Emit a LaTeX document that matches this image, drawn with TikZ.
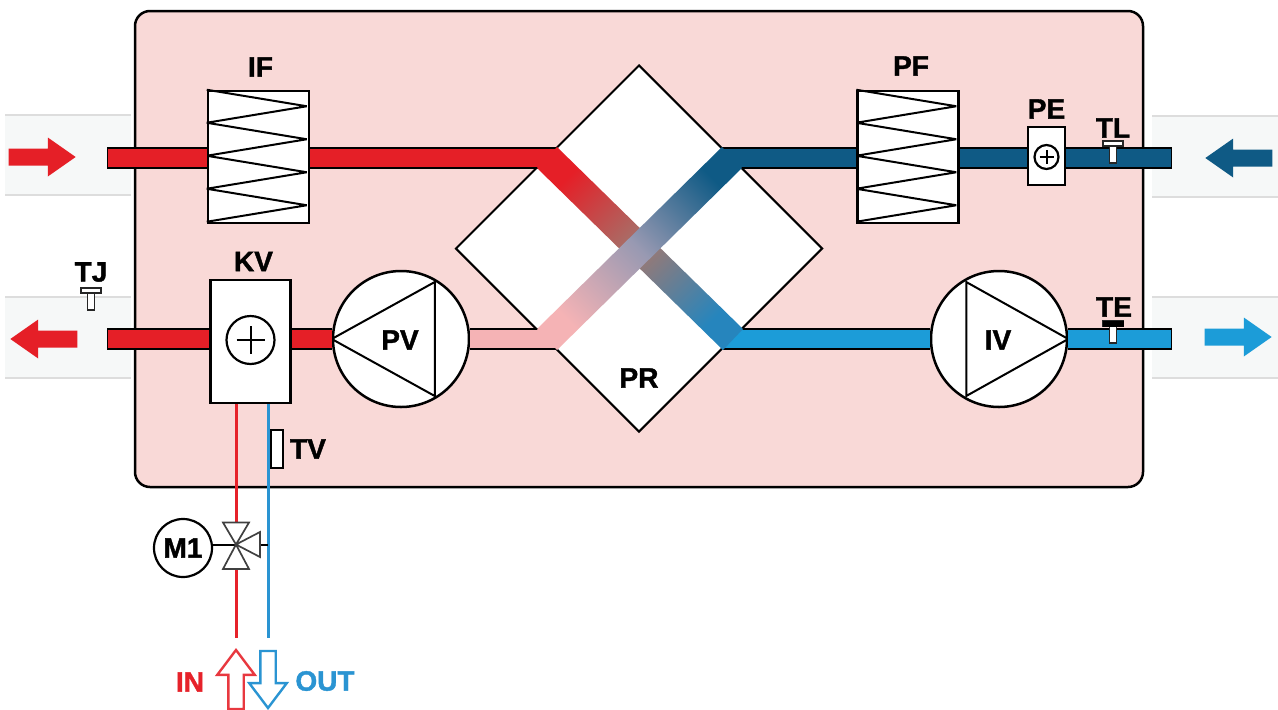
\documentclass[tikz,border=0pt]{standalone}
\usepackage{fontspec}
\setmainfont{Liberation Sans}[BoldFeatures={FakeBold=1.4}]
\usetikzlibrary{shapes.geometric,shapes.arrows}

\definecolor{housing}{HTML}{F9D9D7}
\definecolor{stripfill}{HTML}{F6F8F8}
\definecolor{stripline}{HTML}{DDDDDD}
\definecolor{hotred}{HTML}{E51F27}
\definecolor{paleRed}{HTML}{F5B3B5}
\definecolor{darkBlue}{HTML}{0F5A85}
\definecolor{skyBlue}{HTML}{1C9CD8}
\definecolor{pipeRed}{HTML}{E6222A}
\definecolor{pipeBlue}{HTML}{2A94D2}
\definecolor{hotmid}{HTML}{A07870}
\definecolor{coldmid}{HTML}{9899B2}

\begin{document}
\begin{tikzpicture}[x=1pt, y=-1pt, node distance=60pt, line join=miter,
    name node/.style={font=\bfseries\fontsize{28}{28}\selectfont, inner sep=0pt},
    unit box/.style={rectangle, draw, fill=white, line width=2.5pt, inner sep=0pt},
    fan node/.style={circle, draw, fill=white, line width=2.5pt, minimum size=136pt, inner sep=0pt},
    plus node/.style={circle, draw, line width=2.2pt, inner sep=0pt},
    duct/.style={draw=black, double=#1, double distance=18.4pt, line width=1.8pt},
    duct cap/.style={rectangle, fill=black, minimum width=2pt, minimum height=22pt, inner sep=0pt},
    pipe/.style={draw=#1, line width=3pt},
    flow arrow/.style={single arrow, fill=#1, inner sep=8.3pt, minimum height=67pt,
      single arrow head extend=11pt, single arrow tip angle=70},
    hollow arrow/.style={single arrow, draw=#1, fill=white, line width=2.4pt, inner sep=6.5pt,
      single arrow head extend=11pt, single arrow tip angle=74},
    sensor cap/.style={rectangle, draw=black!85, fill=white, line width=1.6pt, minimum width=20pt, minimum height=5pt, inner sep=0pt},
    sensor stem/.style={rectangle, draw=black!85, fill=white, line width=1.6pt, minimum width=7pt, minimum height=17pt, inner sep=0pt},
    valve line/.style={draw=black!75, line width=1.7pt}]

  \useasboundingbox (0,0) rectangle (1278,710);

  % duct strips outside the housing
  \foreach \xa/\xb/\ya/\yb in {5/131/115/195, 5/131/297/378, 1152/1278/116/197, 1152/1278/297/378} {
    \fill[stripfill] (\xa,\ya) rectangle (\xb,\yb);
    \draw[stripline, line width=2pt] (\xa,\ya) -- (\xb,\ya) (\xa,\yb) -- (\xb,\yb);
  }

  \node[rectangle, draw, fill=housing, line width=2.5pt, rounded corners=15pt, minimum width=1008pt,
        minimum height=476pt, inner sep=0pt] (housing) at (639,249) {};
  \node[diamond, draw, fill=white, line width=2pt, aspect=1, minimum width=367pt, minimum height=367pt,
        inner sep=0pt] (PR) at (639,248.5) {};

  \node[unit box, minimum width=101pt, minimum height=132pt] (IF) at (258.5,157) {};
  \node[unit box, minimum width=101pt, minimum height=132pt] (PF) at (908,157) {};
  \node[unit box, minimum width=37pt, minimum height=58pt] (PE) at (1046.5,156) {};
  \node[unit box, minimum width=80pt, minimum height=123pt] (KV) at (250.5,341.5) {};
  \node[fan node] (PV) at (401,339) {};
  \node[fan node] (IV) at (999,339) {};

  \node[plus node, minimum size=48pt] (KVplus) at (250.5,340) {};
  \node[plus node, minimum size=24pt] (PEplus) at (1046.5,157) {};

  % zigzag coils and plus signs
  \foreach \f in {IF,PF}
    \draw[line width=2pt, line join=bevel] (\f.north west) -- ++(100,16.5) -- ++(-100,16.5) -- ++(100,16.5) -- ++(-100,16.5)
      -- ++(100,16.5) -- ++(-100,16.5) -- ++(100,16.5) -- ++(-100,16.5);
  \foreach \h/\r in {KVplus/14,PEplus/7}
    \draw[line width=2pt] (\h.center) ++(-\r,0) -- ++(2*\r,0) (\h.center) ++(0,-\r) -- ++(0,2*\r);
  \draw[line width=2pt] (PV.west) -- ++(103,-57) -- ++(0,114) -- cycle;
  \draw[line width=2pt] (IV.east) -- ++(-102,-57) -- ++(0,114) -- cycle;

  \node[duct cap] (hotcap) at (108,158) {};
  \node[duct cap] (warmcap) at (108,339) {};
  \node[duct cap] (darkcap) at (1170.5,158) {};
  \node[duct cap] (skycap) at (1170.5,339) {};
  \coordinate (hotin) at (557,158);
  \coordinate (darkin) at (722,158);
  \coordinate (paleout) at (557,339);
  \coordinate (skyout) at (723,339);

  \path
    (hotcap.center) edge[duct=hotred] (IF.west |- hotcap)
    (IF.east |- hotin) edge[duct=hotred] (hotin)
    (warmcap.center) edge[duct=hotred] (KV.west |- warmcap)
    (KV.east |- PV.west) edge[duct=hotred] (PV.west)
    (PV.east) edge[duct=paleRed] (paleout)
    (darkcap.center) edge[duct=darkBlue] (PE.east |- darkcap)
    (PE.west |- darkin) edge[duct=darkBlue] (PF.east |- darkin)
    (PF.west |- darkin) edge[duct=darkBlue] (darkin)
    (skyout) edge[duct=skyBlue] (IV.west)
    (IV.east) edge[duct=skyBlue] (skycap.center);

  % crossing passages of the exchanger
  \shade[top color=hotred, bottom color=pipeBlue!90!black, middle color=hotmid, shading angle=45]
    (557,147) -- (743,329) -- (723,350) -- (537,168) -- cycle;
  \shade[top color=darkBlue, bottom color=paleRed, middle color=coldmid, shading angle=-45]
    (722,147) -- (742,168) -- (557,350) -- (537,329) -- cycle;

  \foreach \s/\x/\y in {TJ/91/290.5, TL/1113/143.5, TE/1113/323.5} {
    \node[sensor stem] (\s stem) at (\x,\y+11) {};
    \node[sensor cap] (\s cap) at (\x,\y) {};
  }
  \node[rectangle, draw=black, fill=black, minimum width=20pt, minimum height=5pt, inner sep=0pt] (TE bar) at (1113,323.5) {};
  \node[rectangle, draw, fill=white, line width=2pt, minimum width=12pt, minimum height=38pt, inner sep=0pt] (TVs) at (276.5,449) {};

  \node[name node] (IFt) [above of=IF, node distance=90pt, xshift=2pt] {IF};
  \node[name node] (PFt) [above of=PF, node distance=91pt, xshift=3pt] {PF};
  \node[name node] (PEt) [above of=PE, node distance=47pt] {PE};
  \node[name node] (KVt) [above of=KV, node distance=80pt, xshift=3pt] {KV};
  \node[name node] (PVt) at (400,340) {PV};
  \node[name node] (IVt) at (998,340) {IV};
  \node[name node] (PRt) at (639,378) {PR};
  \node[name node] (TJt) at (91,272) {TJ};
  \node[name node] (TLt) at (1113,128) {TL};
  \node[name node] (TEt) at (1114,307) {TE};
  \node[name node] (TVt) at (308,449) {TV};

  % water circuit
  \coordinate (valve) at (236,544.5);
  \coordinate (valvetop) at (236,522.5);
  \coordinate (valvebot) at (236,569);
  \coordinate (redend) at (236,638);
  \coordinate (blueend) at (268,638);
  \path
    (KV.south -| valve) edge[pipe=pipeRed] (valvetop)
    (valvebot) edge[pipe=pipeRed] (redend)
    (KV.south -| blueend) edge[pipe=pipeBlue] (blueend);

  \node[circle, draw, fill=white, line width=2.2pt, minimum size=58pt, inner sep=0pt] (M1) at (183,548) {};
  \node[name node] (M1t) at (M1) {M1};
  \draw[line width=2pt] (M1.east |- valve) -- (valve);
  \draw[line width=2pt] (260,544.5) -- (blueend |- valve);
  \draw[valve line] (valve) -- ++(-13,-22) -- ++(26,0) -- cycle;
  \draw[valve line] (valve) -- ++(-13,24.5) -- ++(26,0) -- cycle;
  \draw[valve line] (valve) -- ++(24,-12.5) -- ++(0,25) -- cycle;

  \node[flow arrow=hotred, anchor=tip, shape border rotate=0] (arrowA) at (76,157) {};
  \node[flow arrow=hotred, anchor=tip, shape border rotate=180] (arrowB) at (10,339) {};
  \node[flow arrow=darkBlue, anchor=tip, shape border rotate=180] (arrowC) at (1205,158) {};
  \node[flow arrow=skyBlue, anchor=tip, shape border rotate=0] (arrowD) at (1272,337) {};

  \node[hollow arrow=pipeRed!90!white, anchor=tip, shape border rotate=90, minimum height=59pt] (arrowIN) at (236,648) {};
  \node[hollow arrow=pipeBlue, anchor=tip, shape border rotate=270, minimum height=57pt] (arrowOUT) at (268,710) {};
  \node[name node, text=pipeRed] (INt) at (190,682) {IN};
  \node[name node, text=pipeBlue] (OUTt) at (325,681) {OUT};
\end{tikzpicture}
\end{document}
